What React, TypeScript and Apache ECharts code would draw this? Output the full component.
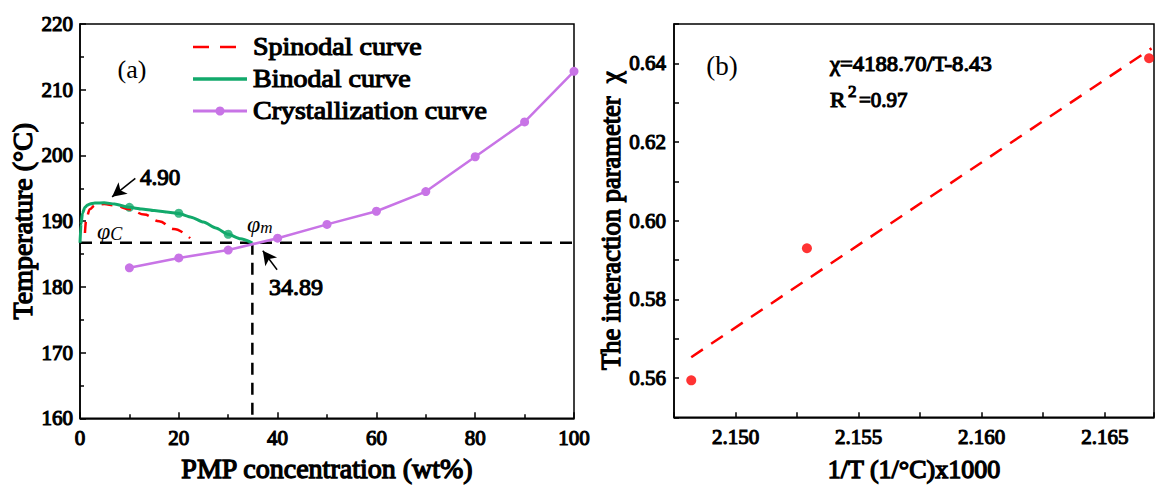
import React, { useEffect, useRef } from 'react';
import * as echarts from 'echarts';

// ---- Panel (a) data ----
const crystX = [10, 20, 30, 40, 50, 60, 70, 80, 90, 100];
const crystT = [182.9, 184.4, 185.6, 187.4, 189.5, 191.5, 194.5, 199.8, 205.1, 212.8];

const binX = [0, 0.2, 0.5, 1, 1.5, 2, 3, 4.9, 7, 10, 12.5, 15, 17.5, 20, 22.5, 25, 27.5, 30, 32.5, 34.89];
const binT = [186.7, 189.5, 191.2, 192.1, 192.45, 192.6, 192.75, 192.8, 192.6, 192.1, 191.85, 191.6, 191.4, 191.15, 190.6, 189.85, 188.95, 188.0, 187.3, 186.7];
const binMarkX = [10, 20, 30];
const binMarkT = [192.1, 191.2, 188.0];

const spinX = [1.0, 1.3, 2, 3, 4.9, 7, 10, 13, 16, 19, 22.3];
const spinT = [188.2, 190.5, 191.8, 192.4, 192.6, 192.4, 191.8, 191.0, 190.0, 188.8, 187.4];

const phiM = 34.89;
const tM = 186.7;
const tempMin = 160;
const concMax = 100;

const arrowCrit = [11.2, 196.5, 6.5, 193.7];
const arrowM = [39.9, 182.6, 37.0, 185.5];

// ---- Panel (b) data ----
const invT = [2.1482, 2.1529, 2.1668];
const chi = [0.5594, 0.593, 0.6413];
const fitX = [2.1482, 2.1669];
const fitChi = [0.5653, 0.6438];

const legendNames = ['Spinodal curve', 'Binodal curve', 'Crystallization curve'];

const FONT = '"Liberation Serif"';
const RED = '#FF0000';
const GREEN = '#12A96B';
const PURPLE = '#C874E6';

const zip = (a: number[], b: number[]) => a.map((v, i) => [v, b[i]]);

export default function App() {
  const ref = useRef<HTMLDivElement>(null);
  useEffect(() => {
    const chart = echarts.init(ref.current!, null, { renderer: 'svg' });
    const black = { color: '#000', width: 1.5 };
    // heavy serif look: regular serif face thickened with a thin outline
    const heavy = (size: number, bw = 1.1) => ({
      fontFamily: FONT,
      fontWeight: 'normal',
      fontSize: size,
      color: '#000',
      textBorderColor: '#000',
      textBorderWidth: bw,
    });
    const tickLabel = heavy(21, 1.1);
    const base = {
      type: 'value',
      nameLocation: 'middle',
      axisLine: { show: true, onZero: false, lineStyle: black },
      axisTick: { show: true, inside: true, length: 6, lineStyle: black },
      splitLine: { show: false },
    };
    const txt = (text: string, x: number, y: number, size: number, bold = true, align = 'center', sx = 1) => ({
      type: 'text',
      x,
      y,
      scaleX: sx,
      silent: true,
      style: {
        text,
        fontSize: size,
        fontFamily: FONT,
        fontWeight: 'normal',
        fill: '#000',
        stroke: bold ? '#000' : null,
        lineWidth: bold ? 1.1 : 0,
        align,
        verticalAlign: 'middle',
      },
    });
    const arrowLine = (a: number[]) => [
      { coord: [a[0], a[1]], symbol: 'none' },
      { coord: [a[2], a[3]], symbol: 'arrow' },
    ];
    const legendRowY = [47, 79, 111];
    const legendGraphics: any[] = [
      { type: 'line', silent: true, shape: { x1: 193, y1: legendRowY[0], x2: 238, y2: legendRowY[0] }, style: { stroke: RED, lineWidth: 2.5, lineDash: [16, 11] } },
      { type: 'line', silent: true, shape: { x1: 193, y1: legendRowY[1], x2: 247, y2: legendRowY[1] }, style: { stroke: GREEN, lineWidth: 3.5 } },
      { type: 'line', silent: true, shape: { x1: 193, y1: legendRowY[2], x2: 247, y2: legendRowY[2] }, style: { stroke: PURPLE, lineWidth: 3 } },
      { type: 'circle', silent: true, shape: { cx: 220, cy: legendRowY[2], r: 4.5 }, style: { fill: PURPLE } },
      ...legendNames.map((n, i) => txt(n, 253, legendRowY[i], 25, true, 'left', 1.12)),
    ];

    const option: any = {
      animation: false,
      backgroundColor: '#fff',
      textStyle: { fontFamily: FONT },
      grid: [
        { left: 80, top: 24, width: 494, height: 398, show: true, borderColor: '#000', borderWidth: 1.5, backgroundColor: 'transparent' },
        { left: 674, top: 24, width: 482, height: 398, show: true, borderColor: '#000', borderWidth: 1.5, backgroundColor: 'transparent' },
      ],
      xAxis: [
        {
          ...base,
          gridIndex: 0,
          min: 0,
          max: concMax,
          interval: 20,
          name: 'PMP concentration (wt%)',
          nameGap: 29,
          nameTextStyle: heavy(28, 1.3),
          minorTick: { show: true, splitNumber: 2, length: 4, lineStyle: black },
          axisLabel: { ...tickLabel, margin: 9 },
        },
        {
          ...base,
          gridIndex: 1,
          min: 2.1475,
          max: 2.167,
          interval: 0.0025,
          name: '1/T (1/°C)x1000',
          nameGap: 39,
          nameTextStyle: heavy(26, 1.3),
          axisTick: { show: true, inside: true, length: 5, lineStyle: black },
          axisLabel: {
            ...tickLabel,
            margin: 9,
            formatter: (v: number) => {
              const k = Math.round(v * 1000);
              if (Math.abs(v * 1000 - k) < 1e-6 && k % 5 === 0) return (k / 1000).toFixed(3);
              return '';
            },
          },
        },
      ],
      yAxis: [
        {
          ...base,
          gridIndex: 0,
          min: tempMin,
          max: 220,
          interval: 10,
          name: 'Temperature (°C)',
          nameGap: 44,
          nameRotate: 90,
          nameTextStyle: heavy(28, 1.3),
          minorTick: { show: true, splitNumber: 2, length: 4, lineStyle: black },
          axisLabel: { ...tickLabel, margin: 7 },
        },
        {
          ...base,
          gridIndex: 1,
          min: 0.55,
          max: 0.65,
          interval: 0.01,
          name: '{a|The interaction parameter  }{b|χ}',
          nameGap: 43,
          nameRotate: 90,
          nameTextStyle: {
            ...heavy(26.5, 1.3),
            rich: {
              a: heavy(26.5, 1.3),
              b: { fontFamily: FONT, fontWeight: 'normal', fontSize: 26.5, color: '#000' },
            },
          },
          axisTick: { show: true, inside: true, length: 5, lineStyle: black },
          axisLabel: {
            ...tickLabel,
            margin: 8,
            formatter: (v: number) => {
              const k = Math.round(v * 100);
              if (Math.abs(v * 100 - k) < 1e-6 && k % 2 === 0 && k >= 56 && k <= 64) return (k / 100).toFixed(2);
              return '';
            },
          },
        },
      ],
      series: [
        {
          name: 'h-dash', type: 'line', xAxisIndex: 0, yAxisIndex: 0,
          data: [[0, tM], [concMax, tM]], symbol: 'none', silent: true,
          lineStyle: { color: '#000', width: 2.5, type: [12, 8] },
        },
        {
          name: 'v-dash', type: 'line', xAxisIndex: 0, yAxisIndex: 0,
          data: [[phiM, tM], [phiM, tempMin]], symbol: 'none', silent: true,
          lineStyle: { color: '#000', width: 2.5, type: [12, 8] },
          markLine: {
            silent: true,
            symbolSize: [11, 14],
            label: { show: false },
            lineStyle: { color: '#000', width: 1.5, type: 'solid' },
            data: [arrowLine(arrowCrit), arrowLine(arrowM)],
          },
        },
        {
          name: 'Spinodal curve', type: 'line', xAxisIndex: 0, yAxisIndex: 0,
          data: zip(spinX, spinT), smooth: 0.4, smoothMonotone: 'x', symbol: 'none',
          itemStyle: { color: RED }, lineStyle: { color: RED, width: 2.5, type: [11, 8] },
        },
        {
          name: 'Binodal curve', type: 'line', xAxisIndex: 0, yAxisIndex: 0,
          data: zip(binX, binT), smooth: 0.2, smoothMonotone: 'x', symbol: 'none',
          itemStyle: { color: GREEN }, lineStyle: { color: GREEN, width: 3 },
        },
        {
          name: 'binodal-points', type: 'scatter', xAxisIndex: 0, yAxisIndex: 0,
          data: zip(binMarkX, binMarkT), symbolSize: 9, itemStyle: { color: GREEN },
        },
        {
          name: 'Crystallization curve', type: 'line', xAxisIndex: 0, yAxisIndex: 0,
          data: zip(crystX, crystT), symbol: 'circle', symbolSize: 9, showAllSymbol: true,
          itemStyle: { color: PURPLE }, lineStyle: { color: PURPLE, width: 2.5 },
        },
        {
          name: 'fit', type: 'line', xAxisIndex: 1, yAxisIndex: 1,
          data: zip(fitX, fitChi), symbol: 'none',
          lineStyle: { color: RED, width: 2.5, type: [14, 10] },
        },
        {
          name: 'chi', type: 'scatter', xAxisIndex: 1, yAxisIndex: 1,
          data: zip(invT, chi), symbolSize: 10, itemStyle: { color: RED },
        },
      ],
      graphic: [
        ...legendGraphics,
        txt('(a)', 132, 69, 26, false),
        txt('4.90', 160, 177, 23),
        {
          type: 'text', x: 97, y: 231, silent: true,
          style: {
            text: '{p|φ}{s|C}', align: 'left', verticalAlign: 'middle',
            rich: {
              p: { fontFamily: FONT, fontStyle: 'italic', fontSize: 24, fill: '#000', verticalAlign: 'bottom' },
              s: { fontFamily: FONT, fontStyle: 'italic', fontSize: 18, fill: '#000', verticalAlign: 'bottom' },
            },
          },
        },
        {
          type: 'text', x: 247, y: 224, silent: true,
          style: {
            text: '{p|φ}{s|m}', align: 'left', verticalAlign: 'middle',
            rich: {
              p: { fontFamily: FONT, fontStyle: 'italic', fontSize: 24, fill: '#000', verticalAlign: 'bottom' },
              s: { fontFamily: FONT, fontStyle: 'italic', fontSize: 17, fill: '#000', verticalAlign: 'bottom' },
            },
          },
        },
        txt('34.89', 296, 287, 24),
        txt('(b)', 722, 66, 27, false),
        txt('χ=4188.70/T-8.43', 830, 64, 21, true, 'left', 1.08),
        txt('R', 830, 100, 21, true, 'left', 1.1),
        txt('2', 848, 91, 17, true, 'left'),
        txt('=0.97', 859, 100, 21, true, 'left'),
      ],
    };
    chart.setOption(option);
    return () => chart.dispose();
  }, []);
  return (
    <div
      ref={ref}
      style={{ position: 'fixed', left: 0, top: 0, width: 1157, height: 488, background: '#fff' }}
    />
  );
}
